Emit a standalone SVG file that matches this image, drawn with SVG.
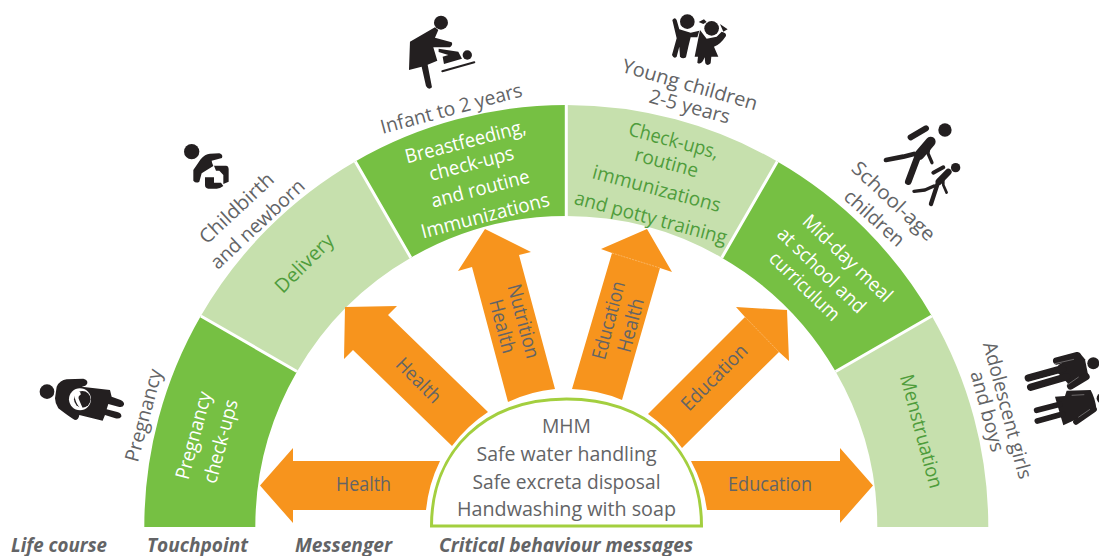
<svg xmlns="http://www.w3.org/2000/svg" width="1099" height="556" viewBox="0 0 1099 556">
<style>
text{font-family:"Open Sans","Noto Sans","Liberation Sans",sans-serif;font-size:19.5px;text-anchor:middle;fill:#636466}
.g{fill:#76c043}.l{fill:#c6e0ad}.a{fill:#f7941d}
.w{fill:#fff}.dg{fill:#4f9d3c}.f{font-weight:700;font-style:italic;text-anchor:start;font-size:19px}
.i{fill:#231f20}.il{stroke:#231f20;fill:none;stroke-linecap:round;stroke-linejoin:round}
.wl{stroke:#fff;stroke-width:1;fill:none}
.h{stroke:#fff;stroke-opacity:.5;stroke-width:.6;stroke-dasharray:2 1;fill:none}
</style>
<rect width="1099" height="556" fill="#fff"/>
<g id="segment-pregnancy">
<path class="g" d="M144.3 527A422 422 0 0 1 200.8 316L297 371.5A311 311 0 0 0 255.3 527Z"/>
<text class="w" transform="translate(200 437) rotate(-75)" textLength="90" lengthAdjust="spacingAndGlyphs">Pregnancy</text>
<text class="w" transform="translate(227 443) rotate(-75)" textLength="86" lengthAdjust="spacingAndGlyphs">check-ups</text>
<text transform="translate(150 417) rotate(-75)" textLength="95" lengthAdjust="spacingAndGlyphs">Pregnancy</text>
<g transform="translate(0 280) scale(.3333)">
<circle class="i" cx="141" cy="335" r="22"/>
<path class="i" d="M170 320Q180 300 200 298L250 296Q264 300 262 310Q258 320 245 320L330 330L335 350L362 360Q374 366 372 374Q368 384 355 380L325 372L320 388L352 396Q366 400 364 410Q358 418 346 415L315 405L308 422L238 405Q236 420 225 420Q215 416 175 385Q165 370 165 355Z"/>
<circle class="w" cx="240" cy="358" r="33"/><circle class="i" cx="247" cy="358" r="25"/>
<path class="w" d="M222 342a10 10 0 0 1 20 2q-8 3 -6 12q4 10 12 28l-8 0q-14 -14 -18 -42z"/>
</g>
</g>
<g id="segment-delivery">
<path class="l" d="M200.8 316A422 422 0 0 1 355.3 161.5L410.8 257.7A311 311 0 0 0 297 371.5Z"/>
<text class="dg" transform="translate(309 268) rotate(-45)" textLength="74" lengthAdjust="spacingAndGlyphs">Delivery</text>
<text transform="translate(241 213) rotate(-43)" textLength="94" lengthAdjust="spacingAndGlyphs">Childbirth</text>
<text transform="translate(262 229) rotate(-43)" textLength="121" lengthAdjust="spacingAndGlyphs">and newborn</text>
<g transform="translate(160 0) scale(.3333)">
<circle class="i" cx="95" cy="455" r="23"/>
<path class="i" d="M122 478Q135 462 150 461L178 460Q190 464 186 474L155 482Q156 490 160 498L125 520L118 545Q108 552 100 542L100 510Z"/>
<path class="i" d="M162 497H198Q206 498 206 508V545L190 552V525L178 512H168ZM135 532H162V548H183L190 558Q180 566 170 566H145Q135 565 135 555Z"/>
</g>
</g>
<g id="segment-infant">
<path class="g" d="M355.3 161.5A422 422 0 0 1 566.3 105V216A311 311 0 0 0 410.8 257.7Z"/>
<text class="w" transform="translate(467 148) rotate(-14.5)" textLength="124" lengthAdjust="spacingAndGlyphs">Breastfeeding,</text>
<text class="w" transform="translate(473 170) rotate(-14.5)" textLength="87" lengthAdjust="spacingAndGlyphs">check-ups</text>
<text class="w" transform="translate(482 195) rotate(-14.5)" textLength="101" lengthAdjust="spacingAndGlyphs">and routine</text>
<text class="w" transform="translate(487 222) rotate(-14.5)" textLength="132" lengthAdjust="spacingAndGlyphs">Immunizations</text>
<text transform="translate(453 115) rotate(-15)" textLength="146" lengthAdjust="spacingAndGlyphs">Infant to 2 years</text>
<g transform="translate(160 0) scale(.3333)">
<circle class="i" cx="843" cy="68" r="21"/>
<path class="i" d="M825 82L750 125L747 210L785 200L798 258Q806 272 816 262L803 194L832 182L820 142L870 142Q880 135 875 127L825 113L835 90Z"/>
<circle class="i" cx="922" cy="165" r="14"/>
<path class="i" d="M836 146L895 155L906 176L852 192L848 170L865 165L836 156Z"/>
<path class="il" stroke-width="6" d="M847 214L943 187"/>
</g>
</g>
<g id="segment-young">
<path class="l" d="M566.3 105A422 422 0 0 1 777.3 161.5L721.8 257.7A311 311 0 0 0 566.3 216Z"/>
<text class="dg" transform="translate(672 147) rotate(15)" textLength="92" lengthAdjust="spacingAndGlyphs">Check-ups,</text>
<text class="dg" transform="translate(665 169) rotate(15)" textLength="65" lengthAdjust="spacingAndGlyphs">routine</text>
<text class="dg" transform="translate(655 195) rotate(15)" textLength="132" lengthAdjust="spacingAndGlyphs">immunizations</text>
<text class="dg" transform="translate(649 224) rotate(15)" textLength="157" lengthAdjust="spacingAndGlyphs">and potty training</text>
<text transform="translate(688 91) rotate(16)" textLength="140" lengthAdjust="spacingAndGlyphs">Young children</text>
<text transform="translate(688 113) rotate(15)" textLength="83" lengthAdjust="spacingAndGlyphs">2-5 years</text>
<g transform="translate(560 0) scale(.3333)">
<circle class="i" cx="382" cy="65" r="22"/>
<circle class="i" cx="455" cy="85" r="22"/>
<path class="i" d="M337 60Q345 50 350 60L358 88L392 98L418 92L412 112L392 112L385 140L378 172Q368 178 360 170L358 140L350 170Q342 178 336 165L350 115Z"/>
<path class="i" d="M416 66L432 58L440 66L430 72ZM480 72L503 88L490 95ZM420 90L440 116L470 110L485 95Q500 98 498 108Q480 135 462 140L475 170H454L452 190Q442 200 436 190L434 172Q424 198 412 188L414 170H404Z"/>
</g>
</g>
<g id="segment-school">
<path class="g" d="M777.3 161.5A422 422 0 0 1 931.8 316L835.6 371.5A311 311 0 0 0 721.8 257.7Z"/>
<text class="w" transform="translate(843 263) rotate(44)" textLength="116" lengthAdjust="spacingAndGlyphs">Mid-day meal</text>
<text class="w" transform="translate(817 275) rotate(44)" textLength="114" lengthAdjust="spacingAndGlyphs">at school and</text>
<text class="w" transform="translate(800 291) rotate(44)" textLength="90" lengthAdjust="spacingAndGlyphs">curriculum</text>
<text transform="translate(889 206) rotate(43)" textLength="106" lengthAdjust="spacingAndGlyphs">School-age</text>
<text transform="translate(870 223) rotate(42)" textLength="74" lengthAdjust="spacingAndGlyphs">children</text>
<g transform="translate(560 0) scale(.3333)">
<circle class="i" cx="1155" cy="390" r="20"/>
<path class="il" stroke-width="18" d="M1052 412L1098 385"/>
<path class="il" stroke-width="30" d="M1112 425L1078 465"/>
<path class="il" stroke-width="20" d="M1075 465L1045 545"/>
<path class="il" stroke-width="14" d="M1062 462L1030 470L978 480"/>
<path class="il" stroke-width="10" d="M1108 435L1104 460L1116 488"/>
<circle class="i" cx="1187" cy="503" r="14"/>
<path class="il" stroke-width="12" d="M1120 518L1150 502"/>
<path class="il" stroke-width="20" d="M1165 516L1137 545"/>
<path class="il" stroke-width="13" d="M1135 545L1113 612"/>
<path class="il" stroke-width="10" d="M1122 558L1095 570L1062 574"/>
<path class="il" stroke-width="8" d="M1150 535L1150 555L1160 578"/>
</g>
</g>
<g id="segment-adolescent">
<path class="l" d="M931.8 316A422 422 0 0 1 988.3 527H877.3A311 311 0 0 0 835.6 371.5Z"/>
<text class="dg" transform="translate(915 433) rotate(75)" textLength="117" lengthAdjust="spacingAndGlyphs">Menstruation</text>
<text transform="translate(1001 412) rotate(75)" textLength="141" lengthAdjust="spacingAndGlyphs">Adolescent girls</text>
<text transform="translate(981 413) rotate(75)" textLength="83" lengthAdjust="spacingAndGlyphs">and boys</text>
<g transform="translate(840 300) scale(.3333)">
<circle class="i" cx="760" cy="190" r="18"/>
<path class="i" d="M655 195L720 160L735 178L745 228L688 255L655 220Z"/>
<path class="il" stroke-width="22" d="M565 234L668 206M572 262L680 230M650 183L712 167M692 258L738 230"/>
<path class="wl" d="M565 248L655 222M640 192L702 178M680 256L716 231"/>
<circle class="i" cx="786" cy="295" r="16"/>
<path class="i" d="M680 272L752 270Q766 295 770 330L670 376L645 290L675 288Z"/>
<path class="il" stroke-width="17" d="M590 331L660 313M592 363L668 342M708 366L762 328"/>
<path class="wl" d="M590 347L652 330M695 286L733 284M715 352L750 328"/>
</g>
</g>
<g id="separators" stroke="#fff" stroke-width="3" fill="none">
<path d="M200.8 316L297 371.5M355.3 161.5L410.8 257.7M566.3 104V217M777.3 161.5L721.8 257.7M931.8 316L835.6 371.5"/>
</g>
<g id="messengers">
<g id="arrow-left"><path class="a" d="M260 485.5L293 448V461H440A141.5 141.5 0 0 0 426 510H293V523Z"/><text transform="translate(363.5 491)" textLength="55" lengthAdjust="spacingAndGlyphs">Health</text></g>
<g id="arrow-upleft"><path class="a" d="M345 307L397 306L388 315L488 412A140 140 0 0 0 452 446L353 350L344 359Z"/><text transform="translate(414 385) rotate(45)" textLength="55" lengthAdjust="spacingAndGlyphs">Health</text></g>
<g id="arrow-upleft2"><path class="a" d="M485 229L531 252L519 255L555 389A140 140 0 0 0 508 402L472 267L458 271Z"/><text transform="translate(517 323) rotate(75)" textLength="76" lengthAdjust="spacingAndGlyphs">Nutrition</text><text transform="translate(496 328) rotate(75)" textLength="55" lengthAdjust="spacingAndGlyphs">Health</text></g>
<g id="arrow-upright2"><path class="a" d="M647 229L672 272L660 268L622 400A140 140 0 0 0 572 389L612 253L601 249Z"/><path class="h" d="M612 253L660 268"/><text transform="translate(615 322) rotate(-75)" textLength="80" lengthAdjust="spacingAndGlyphs">Education</text><text transform="translate(637 327) rotate(-75)" textLength="55" lengthAdjust="spacingAndGlyphs">Health</text></g>
<g id="arrow-upright"><path class="a" d="M787 310L789 361L779 352L682 448A140 140 0 0 0 648 414L745 317L736 307Z"/><path class="h" d="M745 317L779 352"/><text transform="translate(719 382) rotate(-45)" textLength="85" lengthAdjust="spacingAndGlyphs">Education</text></g>
<g id="arrow-right"><path class="a" d="M873 485.5L840 448V461H691A141.5 141.5 0 0 1 707 510H840V523Z"/><text transform="translate(770 491)" textLength="84" lengthAdjust="spacingAndGlyphs">Education</text></g>
</g>
<g id="behaviours">
<path d="M431.5 526C431.5 450 485.5 399 566.5 399C647.5 399 701.5 450 701.5 526Z" fill="#fff" stroke="#a3cf3f" stroke-width="3"/>
<text x="566.5" y="433" textLength="49" lengthAdjust="spacingAndGlyphs">MHM</text>
<text x="566.5" y="461" textLength="180" lengthAdjust="spacingAndGlyphs">Safe water handling</text>
<text x="566.5" y="489" textLength="188" lengthAdjust="spacingAndGlyphs">Safe excreta disposal</text>
<text x="566.5" y="516" textLength="219" lengthAdjust="spacingAndGlyphs">Handwashing with soap</text>
</g>
<g id="column-labels">
<text class="f" x="11" y="552" textLength="96" lengthAdjust="spacingAndGlyphs">Life course</text>
<text class="f" x="147" y="552" textLength="101" lengthAdjust="spacingAndGlyphs">Touchpoint</text>
<text class="f" x="295" y="552" textLength="97" lengthAdjust="spacingAndGlyphs">Messenger</text>
<text class="f" x="439" y="552" textLength="254" lengthAdjust="spacingAndGlyphs">Critical behaviour messages</text>
</g>
</svg>
